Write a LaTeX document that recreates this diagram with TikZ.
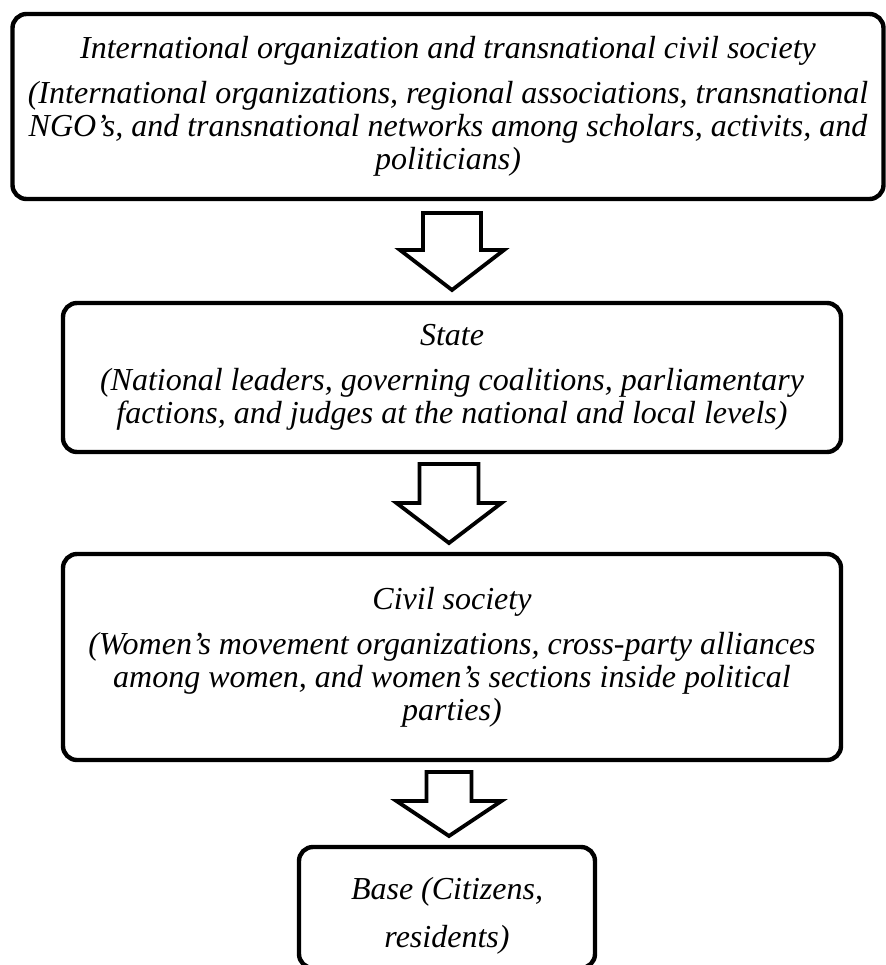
\documentclass[tikz,border=0pt]{standalone}
\usepackage{fontspec}
\setmainfont{Liberation Serif}
\begin{document}
\begin{tikzpicture}[x=0.5pt,y=-0.5pt,
  box/.style={draw, line width=2.2pt, rounded corners=7pt, align=center, inner sep=0pt,
    font=\fontsize{16}{16.5}\selectfont\itshape},
  boxtext/.style={align=center, inner sep=0pt, font=\fontsize{16}{24}\selectfont\itshape},
  blockarrow/.style={draw, line width=1.9pt, line join=miter, fill=white},
]
\useasboundingbox (0,0) rectangle (886,965);
\clip (0,0) rectangle (886,965);

\node[box, minimum width=435.5pt, minimum height=92.5pt] (intl) at (448,106.5)
  {International organization and transnational civil society\\[6pt]
   (International organizations, regional associations, transnational\\
   NGO’s, and transnational networks among scholars, activits, and\\
   politicians)};

\node[box, minimum width=389pt, minimum height=74.5pt] (state) at (452,377.5)
  {State\\[6pt]
   (National leaders, governing coalitions, parliamentary\\
   factions, and judges at the national and local levels)};

\node[box, minimum width=389pt, minimum height=103pt] (civil) at (452,657)
  {Civil society\\[6pt]
   (Women’s movement organizations, cross-party alliances\\
   among women, and women’s sections inside political\\
   parties)};

\node[box, minimum width=148pt, minimum height=60.5pt] (base) at (447,907.5) {};
\node[boxtext] (basetext) at (447,916) {Base (Citizens,\\ residents)};

% block arrows
\draw[blockarrow] (423,213) -- (481,213) -- (481,250) -- (504,250) -- (452,290)
  -- (400,250) -- (423,250) -- cycle;
\draw[blockarrow] (419.5,464) -- (478.5,464) -- (478.5,503) -- (501.5,503) -- (449,543)
  -- (396.5,503) -- (419.5,503) -- cycle;
\draw[blockarrow] (426.5,772) -- (471.5,772) -- (471.5,801) -- (501.5,801) -- (449,836)
  -- (396.5,801) -- (426.5,801) -- cycle;
\end{tikzpicture}
\end{document}
